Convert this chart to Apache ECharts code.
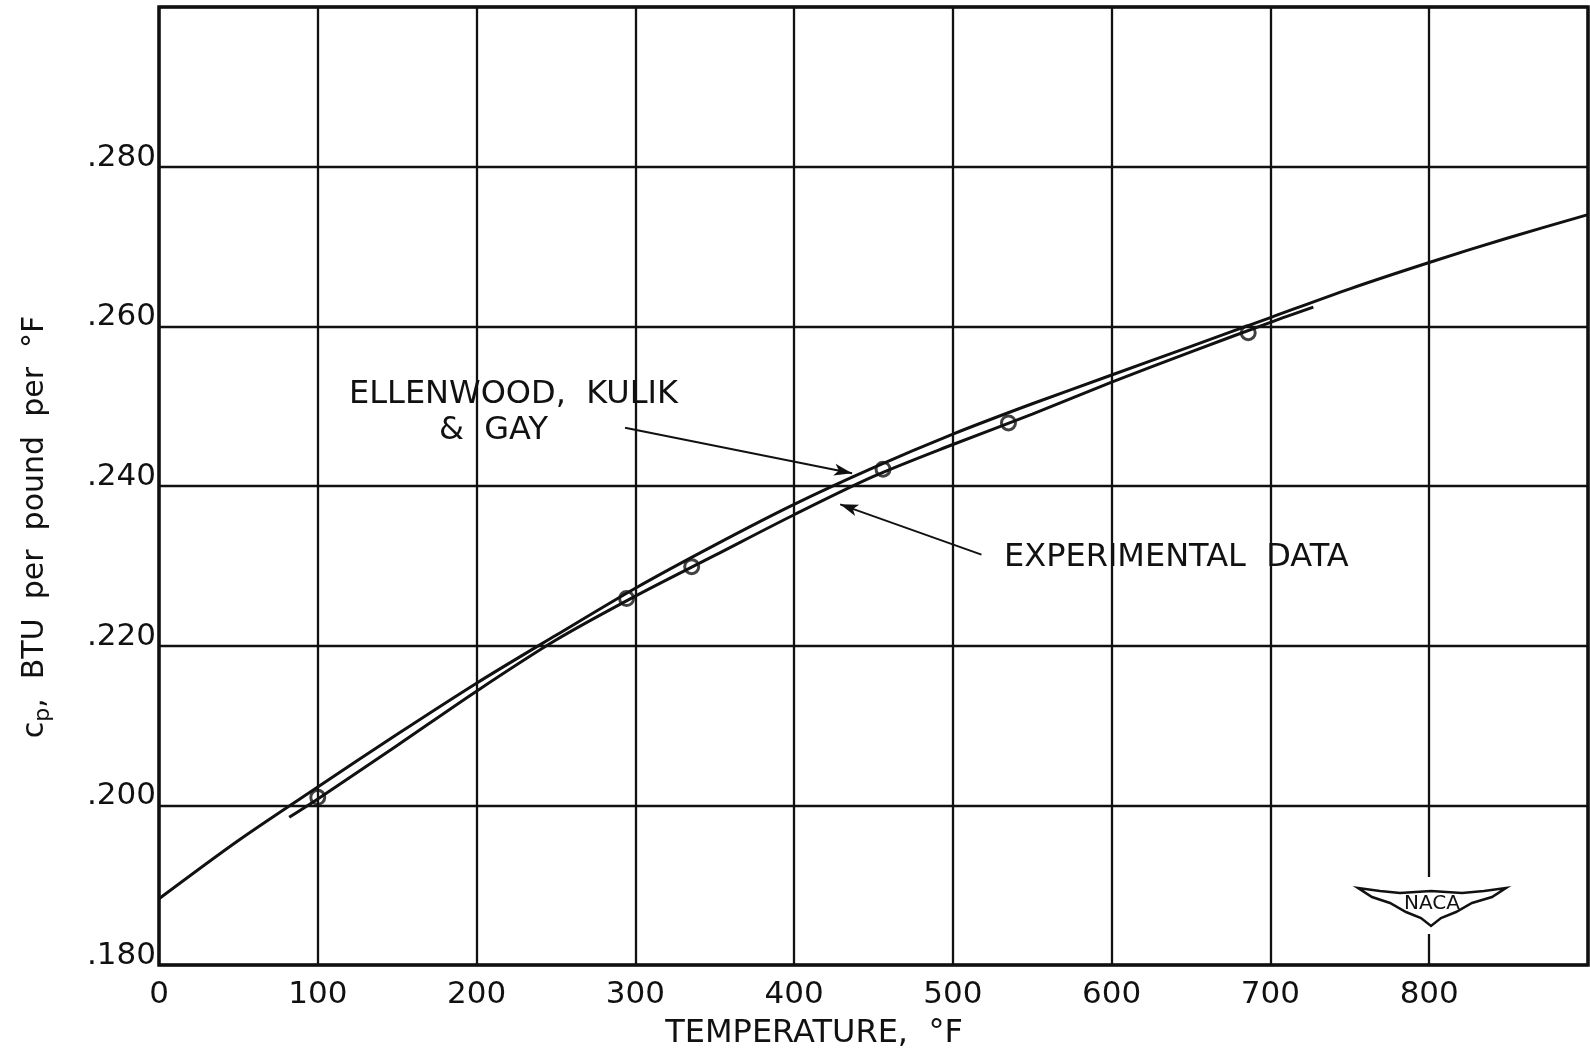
<!DOCTYPE html>
<html>
<head>
<meta charset="utf-8">
<script src="https://cdn.jsdelivr.net/npm/echarts@6/dist/echarts.min.js"></script>
<style>
  html, body { margin: 0; padding: 0; background: #fff; }
  #chart { width: 1590px; height: 1055px; }
</style>
</head>
<body>
<div id="chart"></div>
<script>
// Ellenwood, Kulik & Gay curve (deg F -> Btu/lb/F)
const ekgTemps = [0, 50, 100, 150, 200, 250, 300, 350, 400, 450, 500, 550, 600, 650, 700, 750, 800, 850, 900];
const ekgCp = [0.1883, 0.1956, 0.2023, 0.2089, 0.2153, 0.2213, 0.2272, 0.2326, 0.2377, 0.2423, 0.2465, 0.2503, 0.2539, 0.2575, 0.2611, 0.2647, 0.2680, 0.2711, 0.2740];

// faired curve through the experimental data
const expTemps = [82, 100, 150, 200, 250, 300, 350, 400, 450, 500, 550, 600, 650, 700, 727];
const expCp = [0.1985, 0.2008, 0.2075, 0.2143, 0.2207, 0.2262, 0.2313, 0.2364, 0.2412, 0.2452, 0.2490, 0.2530, 0.2568, 0.2605, 0.2624];

// measured points
const pointTemps = [100, 294.5, 335.5, 456, 535, 686];
const pointCp = [0.2010, 0.2259, 0.2299, 0.2421, 0.2479, 0.2592];

// callout arrows: [tailTemp, tailCp, tipTemp, tipCp]
const ekgArrow = [293.5, 0.2473, 436.5, 0.2416];
const expArrow = [518, 0.2314, 429, 0.2377];

const ink = "#111";
const font = "DejaVu Sans";

const toPairs = (xs, ys) => xs.map((x, i) => [x, ys[i]]);

const chart = echarts.init(document.getElementById("chart"));

chart.setOption({
  animation: false,
  backgroundColor: "#fff",
  grid: {
    left: 159,
    right: 2,
    top: 7,
    bottom: 90,
    show: true,
    borderColor: ink,
    borderWidth: 3.5,
  },
  xAxis: {
    type: "value",
    min: 0,
    max: 900,
    interval: 100,
    axisLine: { show: false },
    axisTick: { show: false },
    splitLine: { lineStyle: { color: ink, width: 2.3 } },
    axisLabel: {
      color: ink,
      fontFamily: font,
      fontSize: 31,
      margin: 14,
      showMaxLabel: false,
    },
  },
  yAxis: {
    type: "value",
    min: 0.18,
    max: 0.3,
    interval: 0.02,
    axisLine: { show: false },
    axisTick: { show: false },
    splitLine: { lineStyle: { color: ink, width: 2.3 } },
    axisLabel: {
      color: ink,
      fontFamily: font,
      fontSize: 31,
      lineHeight: 18,
      margin: 3,
      verticalAlign: "bottom",
      showMaxLabel: false,
      formatter: (v) => v.toFixed(3).slice(1),
    },
  },
  series: [
    {
      name: "Ellenwood, Kulik & Gay",
      type: "line",
      data: toPairs(ekgTemps, ekgCp),
      smooth: 0.3,
      showSymbol: false,
      lineStyle: { color: ink, width: 3 },
      markLine: {
        silent: true,
        symbol: ["none", "arrow"],
        symbolSize: [9, 18],
        label: { show: false },
        lineStyle: { color: ink, width: 2, type: "solid" },
        data: [
          [{ coord: [ekgArrow[0], ekgArrow[1]] }, { coord: [ekgArrow[2], ekgArrow[3]] }],
          [{ coord: [expArrow[0], expArrow[1]] }, { coord: [expArrow[2], expArrow[3]] }],
        ],
      },
    },
    {
      name: "Experimental data",
      type: "line",
      data: toPairs(expTemps, expCp),
      smooth: 0.3,
      showSymbol: false,
      lineStyle: { color: ink, width: 3 },
    },
    {
      name: "Points",
      type: "scatter",
      data: toPairs(pointTemps, pointCp),
      symbol: "circle",
      symbolSize: 14,
      itemStyle: { color: "rgba(0,0,0,0)", borderColor: ink, borderWidth: 3 },
      z: 5,
    },
  ],
  graphic: [
    {
      type: "text",
      x: 349,
      y: 395,
      style: { text: "ELLENWOOD,  KULIK", font: `32px ${font}`, fill: ink, align: "left", verticalAlign: "middle" },
    },
    {
      type: "text",
      x: 439,
      y: 431,
      style: { text: "&  GAY", font: `32px ${font}`, fill: ink, align: "left", verticalAlign: "middle" },
    },
    {
      type: "text",
      x: 1004,
      y: 558,
      style: { text: "EXPERIMENTAL  DATA", font: `32px ${font}`, fill: ink, align: "left", verticalAlign: "middle" },
    },
    {
      type: "text",
      x: 814,
      y: 1034,
      style: { text: "TEMPERATURE,  °F", font: `32px ${font}`, fill: ink, align: "center", verticalAlign: "middle" },
    },
    {
      type: "text",
      x: 35,
      y: 527,
      rotation: Math.PI / 2,
      style: {
        text: "{c|c}{p|p}{t|,  BTU  per  pound  per  °F}",
        align: "center",
        verticalAlign: "middle",
        fill: ink,
        rich: {
          c: { fontFamily: font, fontSize: 30, lineHeight: 44, fill: ink },
          p: { fontFamily: font, fontSize: 22, lineHeight: 44, fill: ink, padding: [16, 0, 0, 0] },
          t: { fontFamily: font, fontSize: 30, lineHeight: 44, fill: ink },
        },
      },
    },
    // NACA wing emblem
    { type: "rect", shape: { x: 1423, y: 877, width: 14, height: 57 }, style: { fill: "#fff" }, z: 10 },
    {
      type: "polygon",
      z: 11,
      shape: {
        points: [
          [1358, 888], [1380, 891], [1400, 893], [1431, 891], [1462, 893], [1484, 891], [1506, 888],
          [1492, 897], [1472, 903], [1456, 912], [1441, 918], [1431, 926],
          [1421, 918], [1406, 912], [1390, 903], [1372, 897],
        ],
      },
      style: { fill: "#fff", stroke: ink, lineWidth: 2.5 },
    },
    {
      type: "text",
      z: 12,
      x: 1432,
      y: 904,
      style: { text: "NACA", font: `20px ${font}`, fill: ink, align: "center", verticalAlign: "middle" },
    },
  ],
});
</script>
</body>
</html>
